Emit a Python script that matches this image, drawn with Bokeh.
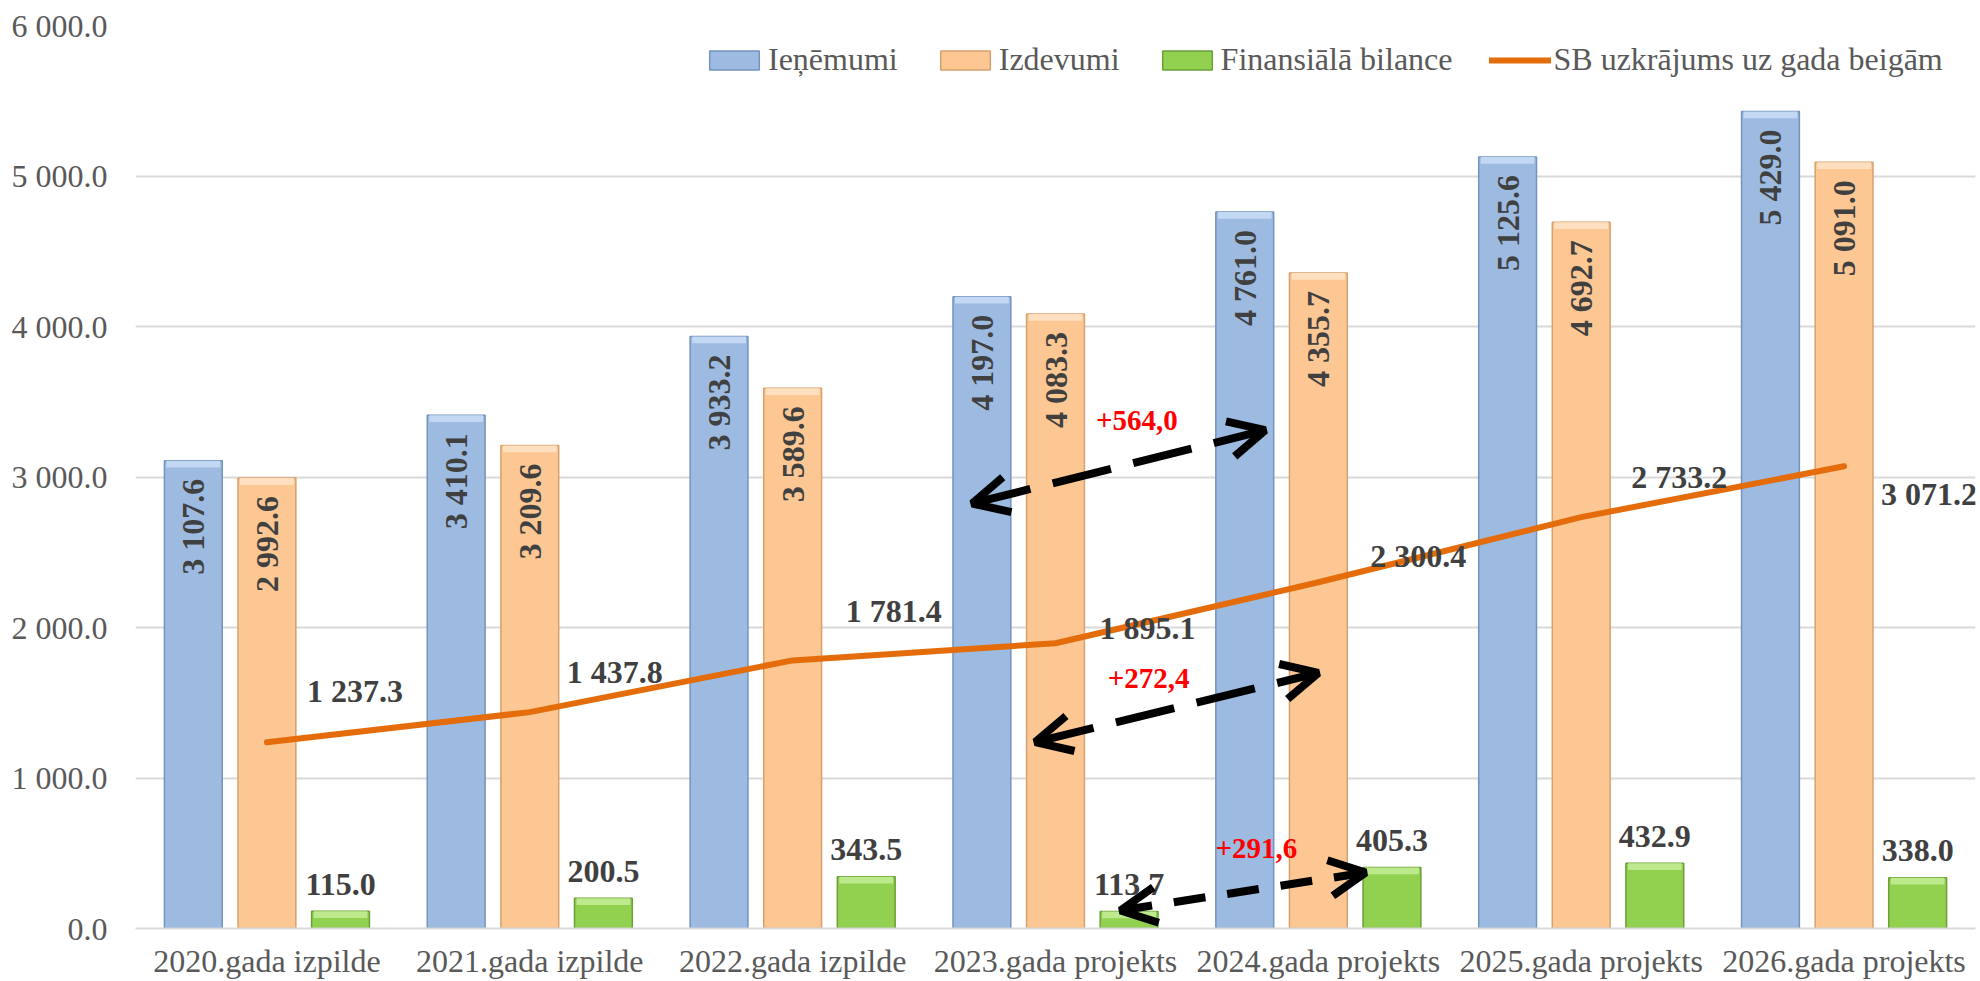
from math import pi
from bokeh.plotting import figure
from bokeh.models import (ColumnDataSource, FactorRange, Range1d, FixedTicker, Legend,
                          LegendItem, Arrow, OpenHead, Label)
from bokeh.transform import dodge
from bokeh.core.properties import value
from bokeh.embed import file_html
from bokeh.resources import INLINE

# ---------------- data ----------------
categories = ["2020.gada izpilde", "2021.gada izpilde", "2022.gada izpilde",
              "2023.gada projekts", "2024.gada projekts", "2025.gada projekts",
              "2026.gada projekts"]
revenue = [3107.6, 3410.1, 3933.2, 4197.0, 4761.0, 5125.6, 5429.0]
expenditure = [2992.6, 3209.6, 3589.6, 4083.3, 4355.7, 4692.7, 5091.0]
balance = [115.0, 200.5, 343.5, 113.7, 405.3, 432.9, 338.0]
reserve = [1237.3, 1437.8, 1781.4, 1895.1, 2300.4, 2733.2, 3071.2]
series_names = ["Ieņēmumi", "Izdevumi", "Finansiālā bilance", "SB uzkrājums uz gada beigām"]
y_ticks = [0, 1000, 2000, 3000, 4000, 5000, 6000]
y_tick_labels = ["0.0", "1 000.0", "2 000.0", "3 000.0", "4 000.0", "5 000.0", "6 000.0"]

# ---------------- styles / layout ----------------
FONT_NAME = "Liberation Serif"
FONT = value(FONT_NAME)
BLUE, BLUE_LINE, BLUE_TOP = "#9DBBE1", "#7393C0", "#C3D8F3"
ORANGE, ORANGE_LINE, ORANGE_TOP = "#FCC793", "#D7A06C", "#FEE0C0"
GREEN, GREEN_LINE, GREEN_TOP = "#92D050", "#6C9F38", "#BDEA8C"
LINE_COLOR = "#E46C0A"
LABEL_COLOR = "#404040"
AXIS_COLOR = "#595959"
BAR_W = 0.22
OFFS = [-0.28, 0.0, 0.28]
BEVEL = 45  # depth of the lighter top strip, in value units
# pixel offsets of reserve-line labels
line_lbl_dx = [88, 85, 101, 92, 100, 98, 85]
line_lbl_dy = [-51, -40, -49, -15, -26, -40, 28]


def fmt(v):
    return f"{v:,.1f}".replace(",", " ")


src = ColumnDataSource(dict(
    cat=categories,
    rev=revenue, exp=expenditure, bal=balance, res=reserve,
    rev_b=[v - BEVEL for v in revenue],
    exp_b=[v - BEVEL for v in expenditure],
    bal_b=[v - BEVEL for v in balance],
    rev_lbl=[fmt(v) for v in revenue],
    exp_lbl=[fmt(v) for v in expenditure],
    bal_lbl=[fmt(v) for v in balance],
    res_lbl=[fmt(v) for v in reserve],
    lx=line_lbl_dx, ly=line_lbl_dy,
))

p = figure(x_range=FactorRange(*categories), y_range=Range1d(0, 6000),
           width=1980, height=981, output_backend="svg", toolbar_location=None,
           min_border_left=135, min_border_right=5, min_border_top=25, min_border_bottom=53)
p.outline_line_color = None
p.background_fill_color = "white"

renderers = []
for key, off, fill, edge, top in [("rev", OFFS[0], BLUE, BLUE_LINE, BLUE_TOP),
                                   ("exp", OFFS[1], ORANGE, ORANGE_LINE, ORANGE_TOP),
                                   ("bal", OFFS[2], GREEN, GREEN_LINE, GREEN_TOP)]:
    xs = dodge("cat", off, range=p.x_range)
    r = p.vbar(x=xs, top=key, width=BAR_W, source=src,
               fill_color=fill, line_color=edge, line_width=1.5)
    p.vbar(x=xs, top=key, bottom=key + "_b", width=BAR_W * 0.93, source=src,
           fill_color=top, line_color=None)
    renderers.append(r)
r_rev, r_exp, r_bal = renderers

common = dict(text_font=FONT, text_font_style="bold", text_font_size="32px",
              text_color=LABEL_COLOR, source=src)
p.text(x=dodge("cat", OFFS[0], range=p.x_range), y="rev", text="rev_lbl", angle=pi / 2,
       text_align="right", text_baseline="middle", y_offset=18, **common)
p.text(x=dodge("cat", OFFS[1], range=p.x_range), y="exp", text="exp_lbl", angle=pi / 2,
       text_align="right", text_baseline="middle", y_offset=18, **common)
p.text(x=dodge("cat", OFFS[2], range=p.x_range), y="bal", text="bal_lbl",
       text_align="center", text_baseline="alphabetic", y_offset=-27, **common)

r_res = p.line(x="cat", y="res", source=src, line_color=LINE_COLOR, line_width=6,
               line_cap="round", line_join="round")
p.text(x="cat", y="res", text="res_lbl", x_offset="lx", y_offset="ly",
       text_align="center", text_baseline="middle", **common)

# ---------------- change arrows ----------------
i23 = categories.index("2023.gada projekts") + 0.5
i24 = categories.index("2024.gada projekts") + 0.5
changes = [
    (revenue[4] - revenue[3], (i23 - 0.317, 2824), (i24 - 0.202, 3311), (i23 + 0.31, 3373), "60 23"),
    (expenditure[4] - expenditure[3], (i23 - 0.077, 1239), (i24 + 0.0, 1698), (i23 + 0.354, 1660), "60 23"),
    (balance[4] - balance[3], (i23 + 0.247, 120), (i24 + 0.18, 372), (i24 - 0.236, 532), "32 22"),
]
for d, (x0, y0), (x1, y1), (lx, ly), dash in changes:
    p.add_layout(Arrow(x_start=x0, y_start=y0, x_end=x1, y_end=y1,
                       start=OpenHead(size=36, line_width=8, line_color="black"),
                       end=OpenHead(size=36, line_width=8, line_color="black"),
                       line_width=8, line_color="black", line_dash=dash))
    p.add_layout(Label(x=lx, y=ly, text=f"+{d:.1f}".replace(".", ","), text_color="red",
                       text_font=FONT_NAME, text_font_style="bold", text_font_size="29px",
                       text_align="center", text_baseline="middle"))

# ---------------- axes ----------------
p.yaxis.ticker = FixedTicker(ticks=y_ticks)
p.yaxis.major_label_overrides = dict(zip(y_ticks, y_tick_labels))
p.yaxis.axis_line_color = None
p.yaxis.minor_tick_line_color = None
p.yaxis.major_label_standoff = 28
for ax in (p.xaxis, p.yaxis):
    ax.major_label_text_font = FONT_NAME
    ax.major_label_text_font_size = "32px"
    ax.major_label_text_color = AXIS_COLOR
    ax.major_tick_line_color = None
    ax.major_tick_out = 0
    ax.major_tick_in = 0
p.xaxis.axis_line_color = "#D9D9D9"
p.xaxis.axis_line_width = 2
p.xaxis.major_label_standoff = 14
p.xgrid.grid_line_color = None
p.ygrid.grid_line_color = "#D9D9D9"
p.ygrid.grid_line_width = 2

legend = Legend(items=[
    LegendItem(label=series_names[0], renderers=[r_rev]),
    LegendItem(label=series_names[1], renderers=[r_exp]),
    LegendItem(label=series_names[2], renderers=[r_bal]),
    LegendItem(label=series_names[3], renderers=[r_res]),
], orientation="horizontal", location=(568, 850))
legend.label_text_font = FONT_NAME
legend.label_text_font_size = "32px"
legend.label_text_color = AXIS_COLOR
legend.glyph_width = 62
legend.glyph_height = 24
legend.label_standoff = 3
legend.spacing = 36
legend.padding = 0
legend.margin = 0
legend.border_line_color = None
legend.background_fill_alpha = 0
p.add_layout(legend)

open("out.html", "w").write(file_html(p, INLINE))
